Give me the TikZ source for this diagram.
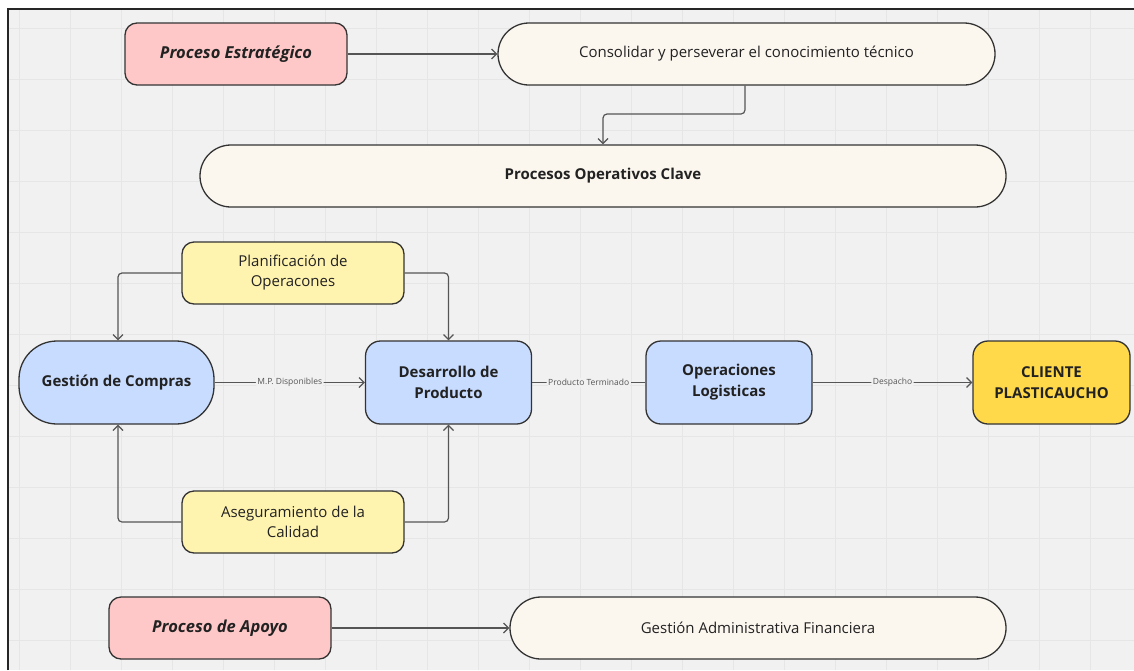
\documentclass[tikz,border=0pt]{standalone}
\usepackage{fontspec}
\setmainfont{Open Sans}
\usetikzlibrary{arrows.meta,positioning}
\definecolor{bgc}{HTML}{F1F1F1}
\definecolor{gridc}{HTML}{E6E6E6}
\definecolor{pinkc}{HTML}{FFC8C8}
\definecolor{creamc}{HTML}{FBF6EE}
\definecolor{yelc}{HTML}{FFF3B0}
\definecolor{bluec}{HTML}{C8DCFF}
\definecolor{clic}{HTML}{FFD94A}
\definecolor{edgec}{HTML}{333333}
\definecolor{linec}{HTML}{555555}
\definecolor{txtc}{HTML}{222222}
\tikzset{
  box/.style={draw=edgec, line width=1.3pt, align=center, text=txtc, inner sep=2pt,
    font=\fontsize{15}{20}\selectfont},
  pinkbox/.style={box, fill=pinkc, rounded corners=12pt, minimum width=222pt, minimum height=62pt,
    font=\fontsize{16.5}{20}\selectfont\bfseries\itshape},
  stadium/.style={box, fill=creamc, rounded corners=31pt, minimum height=62pt},
  yelbox/.style={box, fill=yelc, rounded corners=12pt, minimum width=222pt, minimum height=62pt},
  bluebox/.style={box, fill=bluec, rounded corners=15pt, minimum width=166pt, minimum height=83pt,
    font=\fontsize{15}{21}\selectfont\bfseries},
  conn/.style={draw=linec, line width=1.2pt, rounded corners=4pt},
  arr/.style={conn, -{Straight Barb[length=5pt,width=10pt,line width=1.2pt]}},
  lbl/.style={fill=bgc, text=linec, inner sep=1.5pt, font=\fontsize{8.5}{10}\selectfont}
}
\begin{document}
\begin{tikzpicture}[x=1pt,y=-1pt]
\useasboundingbox (0,0) rectangle (1134,670);
\fill[white] (0,0) rectangle (1134,670);
\fill[bgc] (8,9) rectangle (1134,670);
\foreach \gx in {19,70,...,1134} \draw[gridc, line width=1pt] (\gx,9) -- (\gx,670);
\foreach \gy in {28,79,...,670} \draw[gridc, line width=1pt] (8,\gy) -- (1134,\gy);
\draw[black!85, line width=2pt] (8,670) -- (8,9) -- (1134,9);

\node[pinkbox] (pe) at (236,54) {Proceso Estratégico};
\node[stadium, minimum width=497pt] (cons) at (746.5,54) {Consolidar y perseverar el conocimiento técnico};
\node[stadium, minimum width=806pt, font=\fontsize{15}{20}\selectfont\bfseries] (poc) at (603,176) {Procesos Operativos Clave};
\node[yelbox] (plan) at (293,273) {Planificación de\\Operacones};
\node[bluebox, minimum width=195pt, rounded corners=38pt] (gc) at (116.5,382.5) {Gestión de Compras};
\node[bluebox] (dp) at (448.5,382.5) {Desarrollo de\\Producto};
\node[bluebox] (ol) at (729,382.5) {Operaciones\\Logisticas};
\node[bluebox, fill=clic, minimum width=157pt] (cli) at (1051.5,382.5) {CLIENTE\\PLASTICAUCHO};
\node[yelbox] (aseg) at (293,522) {Aseguramiento de la\\Calidad};
\node[pinkbox] (pa) at (220,628) {Proceso de Apoyo};
\node[stadium, minimum width=496pt] (gaf) at (758,628) {Gestión Administrativa Financiera};

\draw[arr] (pe) -- (cons);
\draw[arr] (cons.south -| 745,0) |- (603,114) -- (poc.north -| 603,0);
\draw[arr] (plan.west) -| (gc.north -| 118,0);
\draw[arr] (plan.east) -| (dp.north);
\draw[arr] (aseg.west) -| (gc.south -| 118,0);
\draw[arr] (aseg.east) -| (dp.south);
\draw[arr] (gc) -- node[lbl]{M.P. Disponibles} (dp);
\draw[conn] (dp) -- node[lbl]{Producto Terminado} (ol);
\draw[arr] (ol) -- node[lbl]{Despacho} (cli);
\draw[arr] (pa) -- (gaf);
\end{tikzpicture}
\end{document}
